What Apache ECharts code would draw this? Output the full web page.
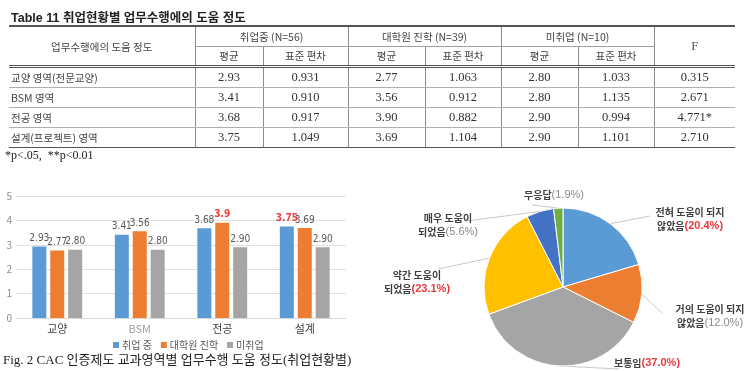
<!DOCTYPE html>
<html>
<head>
<meta charset="utf-8">
<script src="https://cdn.jsdelivr.net/npm/echarts@6/dist/echarts.min.js"></script>
<style>
html, body { margin: 0; padding: 0; background: #fff; width: 745px; height: 371px; overflow: hidden; }
#chart { position: absolute; left: 0; top: 0; width: 745px; height: 371px; }
#tableBox { position: absolute; left: 0; top: 0; width: 745px; height: 165px; z-index: 2; color: #333; }
.ttl { position: absolute; left: 11px; top: 7px; white-space: nowrap; font: bold 12.5px "Liberation Sans", "Noto Sans CJK KR", sans-serif; color: #222; }
.note { position: absolute; left: 5px; top: 148px; white-space: nowrap; font: 12px "Liberation Serif", serif; color: #222; }
table { position: absolute; left: 9px; top: 25px; width: 726px; border-collapse: collapse; table-layout: fixed;
  font: 12.5px "Liberation Serif", "Noto Sans CJK KR", serif; }
td { padding: 0; text-align: center; height: 19px; line-height: 19px; border-left: 1px solid #8a8a8a; white-space: nowrap; }
td.first { border-left: none; }
td.ko { font: 10.5px "Noto Sans CJK KR", sans-serif; color: #444; }
td.left { text-align: left; padding-left: 2px; }
tr.h1 td { border-top: 2px solid #555; height: 19px; }
tr.h2 td { height: 18px; line-height: 18px; }
tr.h1 td.grp { border-bottom: 1px solid #a0a0a0; }
tr.h2 td, td.span2 { border-bottom: 3px double #555; }
tr.d td { border-bottom: 1px solid #b0b0b0; }
tr.d.last td { border-bottom: 1px solid #555; }
</style>
</head>
<body>
<div id="chart"></div>
<div id="tableBox">
  <div class="ttl">Table 11 취업현황별 업무수행에의 도움 정도</div>
  <table id="tbl"></table>
  <div class="note">*p&lt;.05,&nbsp; **p&lt;0.01</div>
</div>
<script>
// 영역 (막대 카테고리)
const categories = ['교양', 'BSM', '전공', '설계']
const areaNames = ['교양 영역(전문교양)', 'BSM 영역', '전공 영역', '설계(프로젝트) 영역']
const groupNames = ['취업 중', '대학원 진학', '미취업']
const groupHeads = ['취업중 (N=56)', '대학원 진학 (N=39)', '미취업 (N=10)']

// 평균 / 표준 편차
const employedMean = [2.93, 3.41, 3.68, 3.75]
const gradMean = [2.77, 3.56, 3.90, 3.69]
const unemployedMean = [2.80, 2.80, 2.90, 2.90]
const employedSd = [0.931, 0.910, 0.917, 1.049]
const gradSd = [1.063, 0.912, 0.882, 1.104]
const unemployedSd = [1.033, 1.135, 0.994, 1.101]
const fValues = [0.315, 2.671, 4.771, 2.710]
const fStars = ['', '', '*', '']

const yTicks = [0, 1, 2, 3, 4, 5]

// 원그래프
const pieNames = ['전혀 도움이 되지 않았음', '거의 도움이 되지 않았음', '보통임', '약간 도움이 되었음', '매우 도움이 되었음', '무응답']
const pieValues = [20.4, 12.0, 37.0, 23.1, 5.6, 1.9]

/**
 * 표 만들기
 */
function buildTable() {
	const means = [employedMean, gradMean, unemployedMean]
	const sds = [employedSd, gradSd, unemployedSd]
	const widths = [186, 68, 85, 77, 76, 77, 76, 81]
	let html = '<colgroup>' + widths.map(w => `<col style="width:${w}px">`).join('') + '</colgroup>'
	html += '<tr class="h1"><td class="first ko span2" rowspan="2">업무수행에의 도움 정도</td>'
	groupHeads.forEach(g => { html += `<td class="ko grp" colspan="2">${g}</td>` })
	html += '<td class="span2" rowspan="2" style="color:#555">F</td></tr>'
	html += '<tr class="h2">'
	groupHeads.forEach(() => { html += '<td class="ko">평균</td><td class="ko">표준 편차</td>' })
	html += '</tr>'
	areaNames.forEach((name, i) => {
		html += `<tr class="d${i === areaNames.length - 1 ? ' last' : ''}"><td class="first ko left">${name}</td>`
		means.forEach((m, g) => {
			html += `<td>${m[i].toFixed(2)}</td><td>${sds[g][i].toFixed(3)}</td>`
		})
		html += `<td>${fValues[i].toFixed(3)}${fStars[i]}</td></tr>`
	})
	document.querySelector('#tbl').innerHTML = html
}
buildTable()

// 빨간 표시 라벨 (시리즈별 데이터 인덱스)
const redLabels = [[3], [2], []]
// 표시 문자 예외
const labelOverride = { '1-2': '3.9' }
const barColors = ['#5b9bd5', '#ed7d31', '#a5a5a5']
const pieColors = ['#5b9bd5', '#ed7d31', '#a5a5a5', '#ffc000', '#4472c4', '#70ad47']
const pieRed = [0, 2, 3]

// 라벨 위치 (레이아웃)
const pieLabelPos = [[690, 219], [710, 316], [647, 363], [417, 282], [448, 225], [554, 195]]
const pieLineEnd = [[650, 216], [662, 313], [619, 369], [438, 269], [466, 221], [532, 205]]

const chart = echarts.init(document.querySelector('#chart'))

function barSeries(name, values, s) {
	return {
		name: name,
		type: 'bar',
		barWidth: 14,
		barGap: '28%',
		itemStyle: { color: barColors[s] },
		data: values.map((v, i) => ({
			value: v,
			label: redLabels[s].includes(i) ? { color: '#f23c3c', fontWeight: 'bold' } : {}
		})),
		label: {
			show: true,
			position: 'top',
			distance: 3,
			fontSize: 10,
			color: '#595959',
			fontFamily: '"Liberation Sans Narrow", "DejaVu Sans Condensed", sans-serif',
			formatter: p => labelOverride[s + '-' + p.dataIndex] || p.value.toFixed(2)
		}
	}
}

const option = {
	animation: false,
	textStyle: { fontFamily: 'Noto Sans CJK KR, sans-serif' },
	graphic: [{
		type: 'text',
		left: 3,
		top: 354,
		style: {
			text: 'Fig. 2 CAC 인증제도 교과영역별 업무수행 도움 정도(취업현황별)',
			font: '13px "Liberation Serif", "Noto Sans CJK KR", serif',
			fill: '#222'
		}
	}],
	legend: {
		data: groupNames,
		left: 108,
		top: 335,
		icon: 'rect',
		itemWidth: 6,
		itemHeight: 6,
		itemGap: 9,
		textStyle: { fontSize: 10, color: '#595959', padding: [0, 0, 0, -2] }
	},
	grid: { left: 16, top: 196, width: 330, height: 122 },
	xAxis: {
		type: 'category',
		data: categories.map(c => c === 'BSM' ? { value: c, textStyle: { color: '#a0a0a0' } } : c),
		axisLine: { lineStyle: { color: '#d9d9d9' } },
		axisTick: { show: false },
		axisLabel: { fontSize: 11, color: '#404040', margin: 5 }
	},
	yAxis: {
		type: 'value',
		min: yTicks[0],
		max: yTicks[yTicks.length - 1],
		interval: 1,
		axisLine: { show: false },
		axisTick: { show: false },
		axisLabel: { fontSize: 10, color: '#8c8c8c', margin: 4 },
		splitLine: { lineStyle: { color: '#e0e0e0' } }
	},
	series: [
		barSeries(groupNames[0], employedMean, 0),
		barSeries(groupNames[1], gradMean, 1),
		barSeries(groupNames[2], unemployedMean, 2),
		{
			type: 'pie',
			center: [563, 287],
			radius: 79,
			startAngle: 90,
			clockwise: true,
			color: pieColors,
			itemStyle: { borderColor: '#fff', borderWidth: 1 },
			data: pieNames.map((n, i) => ({ name: n, value: pieValues[i] })),
			label: {
				show: true,
				position: 'outside',
				overflow: 'none',
				lineHeight: 14,
				formatter: p => {
					const pct = '(' + p.value.toFixed(1) + '%)'
					const st = pieRed.includes(p.dataIndex) ? 'r' : 'g'
					const k = p.name.lastIndexOf(' ')
					if (k < 0) return `{n|${p.name}}{${st}|${pct}}`
					return `{n|${p.name.slice(0, k)}}\n{n|${p.name.slice(k + 1)}}{${st}|${pct}}`
				},
				rich: {
					n: { fontSize: 10, color: '#404040', fontWeight: 'bold', lineHeight: 14 },
					r: { fontSize: 11, color: '#e8383d', fontWeight: 'bold', lineHeight: 14, fontFamily: 'Liberation Sans' },
					g: { fontSize: 11, color: '#8a8a8a', lineHeight: 14, fontFamily: 'Liberation Sans' }
				}
			},
			labelLine: { show: true, length: 10, length2: 10, lineStyle: { color: '#c8c8c8', width: 1 } },
			labelLayout: params => {
				const i = params.dataIndex
				const pts = params.labelLinePoints
				const res = { x: pieLabelPos[i][0], y: pieLabelPos[i][1], align: 'center', verticalAlign: 'middle' }
				if (pts) res.labelLinePoints = [pts[0], pieLineEnd[i], pieLineEnd[i]]
				return res
			}
		}
	]
}
chart.setOption(option)
</script>
</body>
</html>
